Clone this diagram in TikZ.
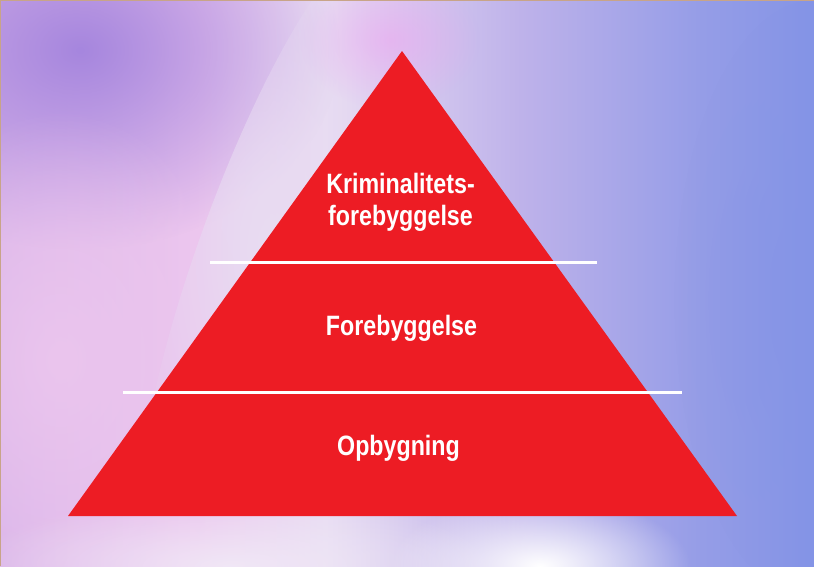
\documentclass[tikz,border=0pt]{standalone}
\usepackage{fontspec}
\setmainfont[FakeStretch=0.83]{Liberation Sans}
\usetikzlibrary{fadings}

\definecolor{pyrred}{HTML}{ED1C24}
\definecolor{bgviolet}{HTML}{A686DE}
\definecolor{bgpink}{HTML}{ECC6EE}
\definecolor{bglight}{HTML}{E8DCF2}
\definecolor{bglilac}{HTML}{BEB2EA}
\definecolor{bgblue}{HTML}{8494E6}
\definecolor{bgedge}{HTML}{C8A488}

\pgfdeclarehorizontalshading{bgshade}{100bp}{color(0bp)=(bgpink!75!bgviolet); color(25bp)=(bgpink!75!bgviolet);
  color(37bp)=(bgpink); color(45bp)=(bglight); color(57bp)=(bglilac); color(68bp)=(bgblue!70!bglilac);
  color(75bp)=(bgblue); color(100bp)=(bgblue)}
\tikzfading[name=softglow, inner color=transparent!0, outer color=transparent!100]

\tikzset{
  level/.style={white, line width=3pt},
  levellabel/.style={text=white, font=\bfseries\fontsize{28}{32}\selectfont, align=center, anchor=base, inner sep=0pt},
  glow/.style={path fading=softglow}
}

\begin{document}
\begin{tikzpicture}[x=1pt,y=-1pt]
\useasboundingbox (0,0) rectangle (814,566);
% background
\shade[shading=bgshade] (0,0) rectangle (814,566);
\fill[bgviolet, glow] (80,50) ellipse (260 and 200);
\fill[bgpink, glow, opacity=.9] (60,360) ellipse (190 and 250);
\fill[bglight, glow, rotate around={-20:(270,250)}] (270,250) ellipse (70 and 330);
\fill[bgpink!80!magenta, glow, opacity=.5] (390,40) ellipse (90 and 70);
\fill[bglight!60!white, glow, opacity=.9] (230,566) ellipse (260 and 70);
\fill[white, glow] (540,566) ellipse (150 and 70);
\fill[bgblue, glow, opacity=.5] (814,300) ellipse (140 and 300);
\draw[bgedge, line width=1pt] (0.5,566) -- (0.5,0.5) -- (814,0.5);

% pyramid
\coordinate (apex) at (402,51);
\coordinate (baseL) at (68,516);
\coordinate (baseR) at (737,516);
\fill[pyrred] (apex) -- (baseR) -- (baseL) -- cycle;

\coordinate (l1a) at (210,262);
\coordinate (l1b) at (597,262);
\coordinate (l2a) at (123,392);
\coordinate (l2b) at (682,392);
\draw[level] (l1a) -- (l1b);
\draw[level] (l2a) -- (l2b);

\node[levellabel] (top) at (400.5,225.5) {Kriminalitets-\\forebyggelse};
\node[levellabel] (mid) at (401.5,335) {Forebyggelse};
\node[levellabel] (bot) at (398.5,455) {Opbygning};
\end{tikzpicture}
\end{document}
